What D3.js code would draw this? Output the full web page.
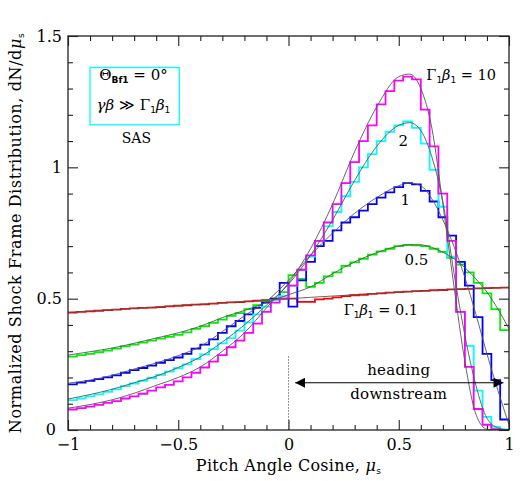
<!DOCTYPE html>
<html><head><meta charset="utf-8">
<script src="https://cdn.jsdelivr.net/npm/d3@7"></script>
<style>
body{margin:0;background:#fff;}
svg{display:block;}
text{font-family:"DejaVu Serif",serif;fill:#000;}
</style></head>
<body>
<svg id="chart" width="526" height="481"></svg>
<script>
// ---- data ----
const binCenters = [-0.98,-0.94,-0.90,-0.86,-0.82,-0.78,-0.74,-0.70,-0.66,-0.62,-0.58,-0.54,-0.50,-0.46,-0.42,-0.38,-0.34,-0.30,-0.26,-0.22,-0.18,-0.14,-0.10,-0.06,-0.02,0.02,0.06,0.10,0.14,0.18,0.22,0.26,0.30,0.34,0.38,0.42,0.46,0.50,0.54,0.58,0.62,0.66,0.70,0.74,0.78,0.82,0.86,0.90,0.94,0.98];
const binWidth = 0.04;
const histRed = [.447,.45,.452,.454,.456,.458,.461,.463,.465,.466,.468,.471,.473,.475,.477,.478,.481,.484,.486,.487,.49,.492,.494,.497,.50,.50,.488,.488,.497,.50,.505,.51,.513,.515,.518,.52,.523,.525,.527,.529,.53,.532,.533,.535,.536,.537,.539,.54,.541,.542];
const histGreen = [.279,.285,.29,.296,.302,.31,.318,.325,.333,.34,.348,.355,.362,.372,.385,.395,.408,.42,.435,.445,.46,.475,.49,.50,.525,.59,.575,.545,.56,.585,.60,.625,.638,.652,.668,.68,.69,.70,.705,.703,.70,.69,.678,.655,.63,.60,.56,.52,.46,.38];
const histBlue = [.174,.18,.187,.194,.20,.208,.218,.228,.236,.245,.256,.266,.276,.29,.31,.325,.345,.37,.395,.415,.44,.465,.485,.50,.56,.47,.57,.64,.70,.72,.76,.79,.81,.835,.86,.885,.905,.925,.94,.935,.91,.87,.81,.74,.64,.55,.43,.29,.19,.04];
const histCyan = [.114,.12,.128,.136,.145,.155,.167,.177,.187,.198,.21,.222,.235,.25,.27,.288,.308,.33,.35,.378,.41,.44,.47,.495,.51,.55,.61,.66,.72,.775,.83,.89,.945,1.0,1.05,1.10,1.135,1.16,1.175,1.15,1.09,.99,.85,.66,.45,.32,.15,.05,.012,.002];
const histMagenta = [.078,.083,.089,.096,.103,.110,.120,.128,.138,.150,.162,.172,.185,.200,.218,.238,.26,.285,.315,.34,.37,.405,.45,.485,.50,.55,.61,.665,.72,.79,.86,.94,1.02,1.10,1.16,1.24,1.29,1.33,1.345,1.335,1.22,1.08,.90,.72,.45,.24,.08,.02,.003,0];

const curveMu = [-1,-0.9,-0.8,-0.7,-0.6,-0.5,-0.4,-0.3,-0.2,-0.1,0,0.1,0.2,0.3,0.4,0.5,0.55,0.6,0.65,0.7,0.75,0.8,0.85,0.9,0.95,1];
const theoryRed = [.448,.453,.458,.463,.468,.474,.479,.484,.489,.495,.50,.505,.51,.515,.52,.525,.527,.529,.531,.533,.535,.537,.539,.54,.542,.543];
const theoryGreen = [.285,.298,.312,.33,.35,.37,.395,.428,.455,.485,.515,.545,.595,.64,.675,.70,.705,.705,.695,.677,.652,.618,.575,.525,.46,.385];
const theoryBlue = [.178,.19,.208,.232,.255,.283,.318,.375,.435,.49,.57,.665,.75,.825,.885,.93,.94,.93,.88,.80,.70,.58,.44,.29,.15,.02];
const theoryCyan = [.118,.135,.155,.18,.205,.238,.278,.335,.40,.475,.555,.665,.80,.95,1.08,1.16,1.17,1.14,1.04,.87,.60,.36,.17,.045,.008,0];
const theoryMagenta = [.083,.097,.115,.14,.17,.20,.24,.30,.37,.465,.56,.69,.86,1.06,1.23,1.345,1.355,1.30,1.15,.86,.55,.26,.06,.003,0,0];

const xMajor = [-1,-0.5,0,0.5,1];
const xMinor = [-0.9,-0.8,-0.7,-0.6,-0.4,-0.3,-0.2,-0.1,0.1,0.2,0.3,0.4,0.6,0.7,0.8,0.9];
const yMajor = [0,0.5,1,1.5];
const yMinor = [0.1,0.2,0.3,0.4,0.6,0.7,0.8,0.9,1.1,1.2,1.3,1.4];

const seriesColors = ["#ff0000","#00ee00","#0000ff","#00ffff","#ff00ff"];

// ---- layout ----
const svg = d3.select("#chart");
const L = 68, R = 509, T = 36, B = 430;
const x = d3.scaleLinear().domain([-1,1]).range([L,R]);
const y = d3.scaleLinear().domain([0,1.5]).range([B,T]);

svg.append("defs").append("clipPath").attr("id","clip")
  .append("rect").attr("x",L).attr("y",T).attr("width",R-L).attr("height",B-T);

const fmt = d => String(d).replace("-", "\u2212");

// axes
function addAxis(gen, tr, vals, size, labels, pad){
  const a = gen.tickValues(vals).tickSize(size).tickPadding(pad||8)
    .tickFormat(labels ? fmt : "");
  const g = svg.append("g").attr("transform", tr).call(a);
  g.select(".domain").remove();
  g.selectAll("line").attr("stroke","#222").attr("stroke-width",1.1);
  g.selectAll("text").style("font-family","DejaVu Serif").style("font-size","16px").attr("fill","#000");
  return g;
}
addAxis(d3.axisBottom(x), `translate(0,${B})`, xMajor, -10, true, 9);
addAxis(d3.axisBottom(x), `translate(0,${B})`, xMinor, -5, false);
addAxis(d3.axisTop(x), `translate(0,${T})`, xMajor, -10, false);
addAxis(d3.axisTop(x), `translate(0,${T})`, xMinor, -5, false);
const yAx = addAxis(d3.axisLeft(y), `translate(${L},0)`, yMajor, -10, true, 6);
yAx.selectAll("text").filter(d => d === 0).attr("x", -12).attr("dy", "0.25em");
addAxis(d3.axisLeft(y), `translate(${L},0)`, yMinor, -5, false);
addAxis(d3.axisRight(y), `translate(${R},0)`, yMajor, -10, false);
addAxis(d3.axisRight(y), `translate(${R},0)`, yMinor, -5, false);

// dotted line at mu = 0
svg.append("line").attr("x1",x(0)).attr("x2",x(0)).attr("y1",y(0.28)).attr("y2",y(0))
  .attr("stroke","#333").attr("stroke-width",1).attr("stroke-dasharray","1,2");

// histograms
const plot = svg.append("g").attr("clip-path","url(#clip)");
const hists = [histRed, histGreen, histBlue, histCyan, histMagenta];
const stepLine = d3.line().x(d=>x(d[0])).y(d=>y(d[1]));
hists.forEach((h,i)=>{
  const pts = [];
  binCenters.forEach((c,j)=>{ pts.push([c-binWidth/2,h[j]]); pts.push([c+binWidth/2,h[j]]); });
  plot.append("path").attr("d",stepLine(pts)).attr("fill","none")
    .attr("stroke",seriesColors[i]).attr("stroke-width",1.8).attr("stroke-linejoin","miter");
});

// theory curves
const theories = [theoryRed, theoryGreen, theoryBlue, theoryCyan, theoryMagenta];
const smooth = d3.line().x((d,i)=>x(curveMu[i])).y(d=>y(d)).curve(d3.curveMonotoneX);
theories.forEach(t=>{
  plot.append("path").attr("d",smooth(t)).attr("fill","none")
    .attr("stroke","#555").attr("stroke-width",0.9);
});

// frame
svg.append("rect").attr("x",L).attr("y",T).attr("width",R-L).attr("height",B-T)
  .attr("fill","none").attr("stroke","#222").attr("stroke-width",1.3);

// arrow
const defs = svg.select("defs");
defs.append("marker").attr("id","ah").attr("viewBox","0 0 10 10").attr("refX",10).attr("refY",5)
  .attr("markerWidth",10).attr("markerHeight",10).attr("markerUnits","userSpaceOnUse").attr("orient","auto-start-reverse")
  .append("path").attr("d","M0,0 L10,5 L0,10 Z").attr("fill","#000");
svg.append("line").attr("x1",x(0.03)).attr("x2",x(0.975)).attr("y1",y(0.18)).attr("y2",y(0.18))
  .attr("stroke","#000").attr("stroke-width",1.1)
  .attr("marker-start","url(#ah)").attr("marker-end","url(#ah)");
svg.append("text").attr("x",x(0.5)).attr("y",y(0.21)).attr("text-anchor","middle")
  .style("font-size","15px").style("letter-spacing","0.3px").text("heading");
svg.append("text").attr("x",x(0.5)).attr("y",y(0.118)).attr("text-anchor","middle")
  .style("font-size","15px").style("letter-spacing","0.3px").text("downstream");

// helpers for rich labels
function gbLabel(xp, yp, tail, anchor){
  const t = svg.append("text").attr("x",xp).attr("y",yp).attr("text-anchor",anchor||"start").style("font-size","14.5px");
  t.append("tspan").text("\u0393");
  t.append("tspan").attr("dy",3).style("font-size","9px").style("font-family","DejaVu Sans").text("1");
  t.append("tspan").attr("dy",-3).style("font-style","italic").text("\u03B2");
  t.append("tspan").attr("dy",3).style("font-size","9px").style("font-family","DejaVu Sans").text("1");
  t.append("tspan").attr("dy",-3).text(tail);
  return t;
}
gbLabel(x(0.625), y(1.332), " = 10");
gbLabel(x(0.25), y(0.438), " = 0.1");
svg.append("text").attr("x",x(0.52)).attr("y",y(1.08)).attr("text-anchor","middle").style("font-size","15px").text("2");
svg.append("text").attr("x",x(0.53)).attr("y",y(0.856)).attr("text-anchor","middle").style("font-size","15px").text("1");
svg.append("text").attr("x",x(0.58)).attr("y",y(0.628)).attr("text-anchor","middle").style("font-size","15px").text("0.5");

// legend box
svg.append("rect").attr("x",x(-0.9)).attr("y",y(1.38)).attr("width",x(-0.495)-x(-0.9)).attr("height",y(1.162)-y(1.38))
  .attr("fill","none").attr("stroke","#00ffff").attr("stroke-width",1.3);
const l1 = svg.append("text").attr("x",x(-0.703)).attr("y",y(1.332)).attr("text-anchor","middle").style("font-size","15px");
l1.append("tspan").text("\u0398");
l1.append("tspan").attr("dy",3).style("font-size","9px").style("font-family","DejaVu Sans").style("font-weight","bold").text("Bf1");
l1.append("tspan").attr("dy",-3).text(" = 0\u00B0");
const l2 = svg.append("text").attr("x",x(-0.703)).attr("y",y(1.217)).attr("text-anchor","middle").style("font-size","15px");
l2.append("tspan").style("font-style","italic").text("\u03B3\u03B2");
l2.append("tspan").text(" \u226B \u0393");
l2.append("tspan").attr("dy",3).style("font-size","9px").style("font-family","DejaVu Sans").text("1");
l2.append("tspan").attr("dy",-3).style("font-style","italic").text("\u03B2");
l2.append("tspan").attr("dy",3).style("font-size","9px").style("font-family","DejaVu Sans").text("1");
svg.append("text").attr("x",x(-0.69)).attr("y",y(1.093)).attr("text-anchor","middle").style("font-size","14px").text("SAS");

// axis titles
const xt = svg.append("text").attr("x",(L+R)/2).attr("y",471).attr("text-anchor","middle").style("font-size","16px").style("letter-spacing","0.3px");
xt.append("tspan").text("Pitch Angle Cosine, ");
xt.append("tspan").style("font-style","italic").text("\u03BC");
xt.append("tspan").attr("dy",3).style("font-size","9px").style("font-family","DejaVu Sans").text("s");
const yt = svg.append("text").attr("transform",`translate(21,${(T+B)/2}) rotate(-90)`).attr("text-anchor","middle").style("font-size","16px").style("letter-spacing","0.6px");
yt.append("tspan").text("Normalized Shock Frame Distribution, dN/d");
yt.append("tspan").style("font-style","italic").text("\u03BC");
yt.append("tspan").attr("dy",3).style("font-size","9px").style("font-family","DejaVu Sans").text("s");
</script>
</body></html>
